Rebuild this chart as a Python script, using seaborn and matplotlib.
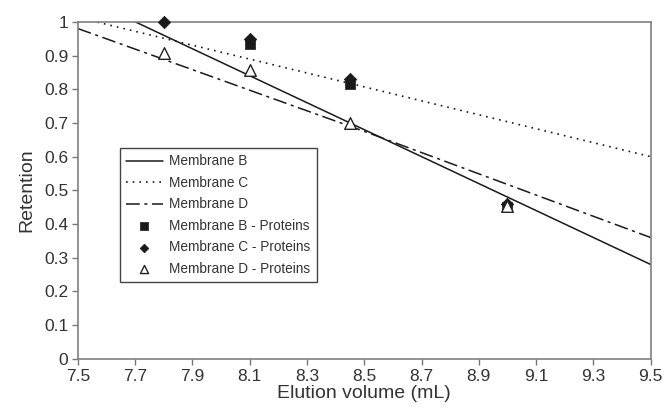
import matplotlib
matplotlib.use("Agg")
import matplotlib.pyplot as plt
import seaborn as sns
import pandas as pd

# ---- data ----
line_x = [7.5, 8.5, 9.5]
line_B = [1.08, 0.68, 0.28]
line_C = [1.013, 0.807, 0.60]
line_D = [0.98, 0.675, 0.36]

prot_B_x = [8.1, 8.45, 9.0]
prot_B_y = [0.935, 0.815, 0.45]
prot_C_x = [7.8, 8.1, 8.45, 9.0]
prot_C_y = [1.0, 0.95, 0.83, 0.46]
prot_D_x = [7.8, 8.1, 8.45, 9.0]
prot_D_y = [0.908, 0.858, 0.70, 0.455]

xticks = [7.5, 7.7, 7.9, 8.1, 8.3, 8.5, 8.7, 8.9, 9.1, 9.3, 9.5]
yticks = [0, 0.1, 0.2, 0.3, 0.4, 0.5, 0.6, 0.7, 0.8, 0.9, 1]

sns.set_style("white")
plt.rcParams['font.family'] = ['Liberation Sans', 'DejaVu Sans']

fig = plt.figure(figsize=(6.66, 4.12), dpi=100)
ax = fig.add_axes([0.117, 0.129, 0.86, 0.818])

txt = '#333333'
lc = '#1a1a1a'

sns.lineplot(x=line_x, y=line_B, ax=ax, color=lc, lw=1.1, linestyle='-', label='Membrane B')
sns.lineplot(x=line_x, y=line_C, ax=ax, color=lc, lw=1.2, linestyle=(0, (1, 3)), label='Membrane C')
sns.lineplot(x=line_x, y=line_D, ax=ax, color=lc, lw=1.1, linestyle=(0, (9, 3, 2, 3)), label='Membrane D')

sns.scatterplot(x=prot_B_x, y=prot_B_y, ax=ax, marker='s', s=55, color='#1a1a1a',
                edgecolor='#1a1a1a', linewidth=0.5, label='Membrane B - Proteins',
                zorder=3, clip_on=False)
sns.scatterplot(x=prot_C_x, y=prot_C_y, ax=ax, marker='D', s=40, color='#1a1a1a',
                edgecolor='#1a1a1a', linewidth=0.5, label='Membrane C - Proteins',
                zorder=3, clip_on=False)
sns.scatterplot(x=prot_D_x, y=prot_D_y, ax=ax, marker='^', s=70, facecolor='white',
                edgecolor='#222222', linewidth=1.0, label='Membrane D - Proteins',
                zorder=4, clip_on=False)

ax.set_xlim(7.5, 9.5)
ax.set_ylim(0, 1)
ax.set_xticks(xticks)
ax.set_xticklabels([f"{v:.1f}" for v in xticks])
ax.set_yticks(yticks)
ax.set_yticklabels(['0', '0.1', '0.2', '0.3', '0.4', '0.5', '0.6', '0.7', '0.8', '0.9', '1'])

ax.tick_params(axis='both', which='both', direction='out', length=4, width=1,
               color='#777777', labelsize=12.5, labelcolor=txt, pad=3,
               bottom=True, left=True)
for sp in ax.spines.values():
    sp.set_color('#808080')
    sp.set_linewidth(1.2)
    sp.set_visible(True)

ax.set_xlabel('Elution volume (mL)', fontsize=14, color=txt, labelpad=1)
ax.set_ylabel('Retention', fontsize=14, color=txt, labelpad=6)

leg = ax.legend(loc='lower left', bbox_to_anchor=(0.073, 0.228), fontsize=9.8,
                frameon=True, fancybox=False, edgecolor='#444444', framealpha=1,
                handlelength=2.7, borderpad=0.45, labelspacing=0.55, handletextpad=0.5,
                borderaxespad=0, markerscale=0.7)
leg.get_frame().set_linewidth(1.0)
for t in leg.get_texts():
    t.set_color(txt)

fig.savefig('out.png', dpi=100)
